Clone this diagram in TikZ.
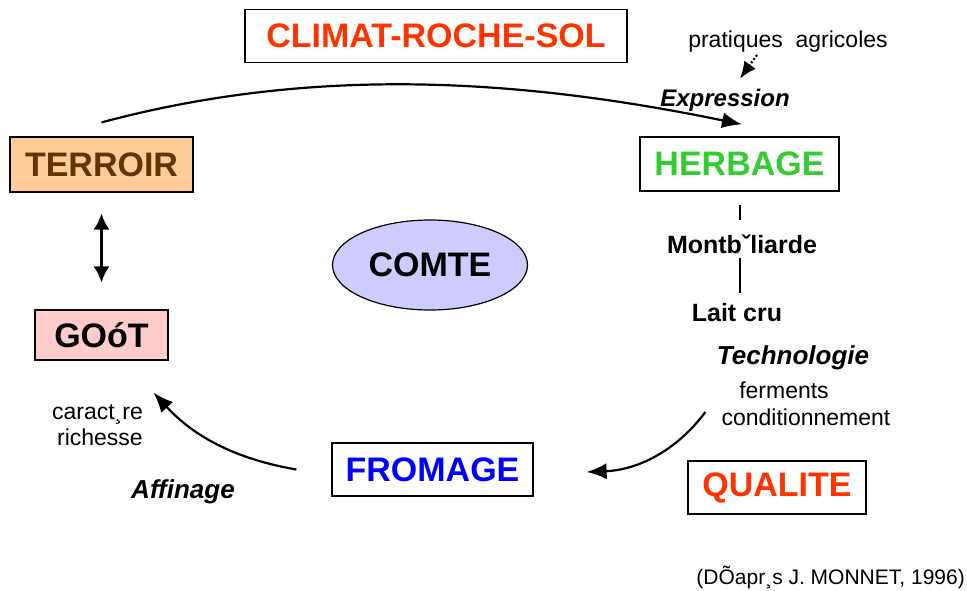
\documentclass[tikz,border=0pt]{standalone}
\usepackage{fontspec}
\setmainfont{Liberation Sans}
\usetikzlibrary{arrows.meta}
\usetikzlibrary{shapes.geometric}

\definecolor{flame}{HTML}{FF3300}
\definecolor{peach}{HTML}{FFCC99}
\definecolor{soilbrown}{HTML}{663300}
\definecolor{grassgreen}{HTML}{33CC33}
\definecolor{lavender}{HTML}{CCCCFF}
\definecolor{blush}{HTML}{FFCCCC}

\begin{document}
\begin{tikzpicture}[x=1pt,y=-1pt,
    labelbox/.style={draw, line width=1.2pt, inner sep=0pt, minimum height=53pt,
      font=\fontsize{34}{40}\selectfont\bfseries},
    midtext/.style={inner sep=0pt, font=\fontsize{25}{30}\selectfont\bfseries},
    smalltext/.style={inner sep=0pt, font=\fontsize{23}{26}\selectfont},
    flow/.style={line width=2.2pt, -{Latex[length=20pt,width=16pt]}},
    link/.style={line width=2pt}]
    \useasboundingbox (0,0) rectangle (967,590);

    % main boxes
    \node[labelbox, text=flame, minimum width=382pt] (climat) at (436,36) {CLIMAT-ROCHE-SOL};
    \node[labelbox, fill=peach, text=soilbrown, minimum width=183pt, minimum height=55pt] (terroir) at (101.5,164.5) {TERROIR};
    \node[labelbox, text=grassgreen, minimum width=199pt, minimum height=54pt] (herbage) at (739.5,164) {HERBAGE};
    \node[labelbox, fill=blush, minimum width=133pt, minimum height=50pt] (gout) at (101.5,335) {GOóT};
    \node[labelbox, text=blue, minimum width=201pt] (fromage) at (432.5,469.5) {FROMAGE};
    \node[labelbox, text=flame, minimum width=178pt] (qualite) at (777,487.5) {QUALITE};
    \node[ellipse, draw, line width=1.2pt, fill=lavender, minimum width=195pt, minimum height=90pt,
      inner sep=0pt, font=\fontsize{34}{40}\selectfont\bfseries] (comte) at (430,265) {COMTE};

    % labels
    \node[smalltext] (pratiques) at (788,42) {pratiques\ \ agricoles};
    \node[midtext, font=\fontsize{24}{30}\selectfont\bfseries\itshape] (expression) at (725,100) {Expression};
    \node[midtext] (montbeliarde) at (742,244) {Montbˇliarde};
    \node[midtext] (laitcru) at (737,313) {Lait cru};
    \node[midtext, font=\fontsize{26}{30}\selectfont\bfseries\itshape] (technologie) at (793,358) {Technologie};
    \node[smalltext] (ferments) at (784,390) {ferments};
    \node[smalltext] (conditionnement) at (806,417) {conditionnement};
    \node[smalltext, align=right, anchor=east] (caractere) at (143,425) {caract¸re\\richesse};
    \node[midtext, font=\fontsize{26}{30}\selectfont\bfseries\itshape] (affinage) at (183,492) {Affinage};
    \node[smalltext, font=\fontsize{21}{24}\selectfont, anchor=east] (source) at (965,577) {(DÕapr¸s J. MONNET, 1996)};

    % connectors
    \coordinate (terroir top) at ([yshift=14pt]terroir.north);
    \coordinate (herbage top) at ([xshift=2.5pt,yshift=12pt]herbage.north);
    \draw[flow] (terroir top) .. controls +(198,-53) and +(-242,-50) .. (herbage top);

    \coordinate (dot start) at ([xshift=-31pt,yshift=-2pt]pratiques.south);
    \coordinate (dot end) at ([xshift=15pt,yshift=10pt]expression.north);
    \draw[line width=2pt, dotted, -{Latex[length=17pt,width=14pt]}] (dot start) -- (dot end);

    \draw[link, shorten <=13pt, shorten >=14pt] (herbage.south) -- (herbage.south |- montbeliarde.north);
    \draw[link, shorten <=4pt, shorten >=11pt] (herbage.south |- montbeliarde.south) -- (herbage.south |- laitcru.north);

    \draw[line width=2.2pt, {Latex[length=16pt,width=16pt]}-{Latex[length=16pt,width=16pt]},
      shorten <=21pt, shorten >=27pt] (terroir) -- (gout);

    \draw[flow] ([xshift=-16pt,yshift=5pt]conditionnement.west) .. controls +(-30,40) and +(50,-2) .. ([xshift=53pt,yshift=-2.5pt]fromage.east);
    \draw[flow] ([xshift=-35pt]fromage.west) .. controls +(-70,-12) and +(35,38) .. ([xshift=52pt,yshift=-32pt]gout.south);
\end{tikzpicture}
\end{document}
